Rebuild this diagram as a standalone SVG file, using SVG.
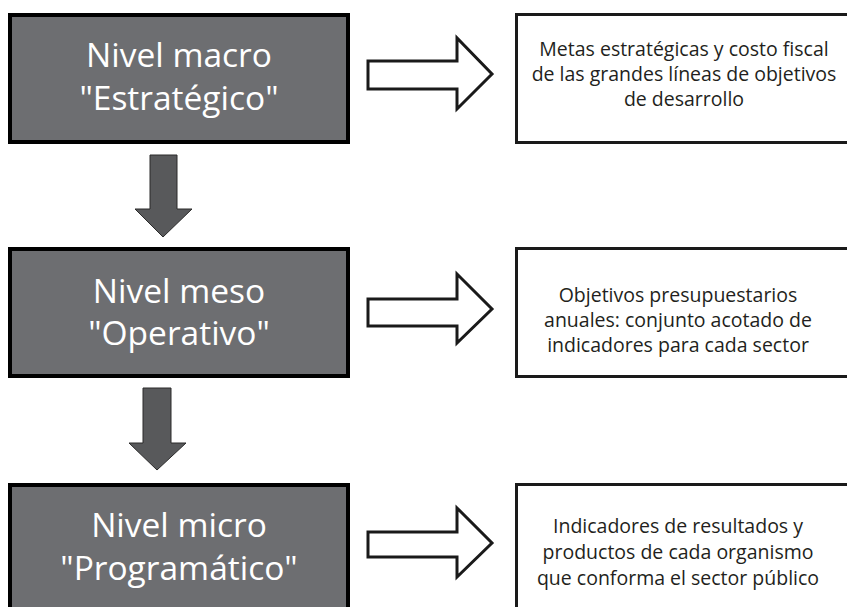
<svg xmlns="http://www.w3.org/2000/svg" width="847" height="607" viewBox="0 0 847 607">
<style>
.lvl{fill:#6d6e71;stroke:#000;stroke-width:4}
.out{fill:#fff;stroke:#1a1a1a;stroke-width:3}
.lt{font-family:"Open Sans","Noto Sans",sans-serif;font-size:33.5px;fill:#fff;text-anchor:middle}
.rt{font-family:"Open Sans","Noto Sans",sans-serif;font-size:19.5px;fill:#231f20;text-anchor:middle}
.harr{fill:#fff;stroke:#1a1a1a;stroke-width:3;stroke-linejoin:miter}
.darr{fill:#58595b;stroke:#2b2b2b;stroke-width:1}
</style>
<rect width="847" height="607" fill="#fff"/>
<g id="macro">
<rect class="lvl" x="10" y="15" width="338" height="127"/>
<text class="lt" x="179" y="67">Nivel macro</text>
<text class="lt" x="179" y="110">"Estratégico"</text>
</g>
<g id="meso">
<rect class="lvl" x="10" y="249" width="338" height="127"/>
<text class="lt" x="179" y="303">Nivel meso</text>
<text class="lt" x="179" y="345">"Operativo"</text>
</g>
<g id="micro">
<rect class="lvl" x="10" y="485" width="338" height="130"/>
<text class="lt" x="179" y="537">Nivel micro</text>
<text class="lt" x="179" y="580">"Programático"</text>
</g>
<g id="out-macro">
<rect class="out" x="516.5" y="14.5" width="340" height="128"/>
<text class="rt" x="684" y="56">Metas estratégicas y costo fiscal</text>
<text class="rt" x="684" y="81">de las grandes líneas de objetivos</text>
<text class="rt" x="684" y="106">de desarrollo</text>
</g>
<g id="out-meso">
<rect class="out" x="516.5" y="248.5" width="340" height="128"/>
<text class="rt" x="678" y="302">Objetivos presupuestarios</text>
<text class="rt" x="678" y="327">anuales: conjunto acotado de</text>
<text class="rt" x="678" y="352">indicadores para cada sector</text>
</g>
<g id="out-micro">
<rect class="out" x="516.5" y="484.5" width="340" height="140"/>
<text class="rt" x="678" y="533">Indicadores de resultados y</text>
<text class="rt" x="678" y="559">productos de cada organismo</text>
<text class="rt" x="678" y="585">que conforma el sector público</text>
</g>
<g id="connectors">
<path class="harr" d="M368,61 H457 V38 L492,74 L457,109 V89 H368 Z"/>
<path class="harr" d="M368,299 H457 V274 L492,309 L457,343 V326 H368 Z"/>
<path class="harr" d="M368,532 H457 V508 L492,543 L457,577 V557 H368 Z"/>
<path class="darr" d="M150,155 H177 V209 H192 L163,237 L135,209 H150 Z"/>
<path class="darr" d="M143,388 H171 V443 H186 L157,470 L129,443 H143 Z"/>
</g>
</svg>
